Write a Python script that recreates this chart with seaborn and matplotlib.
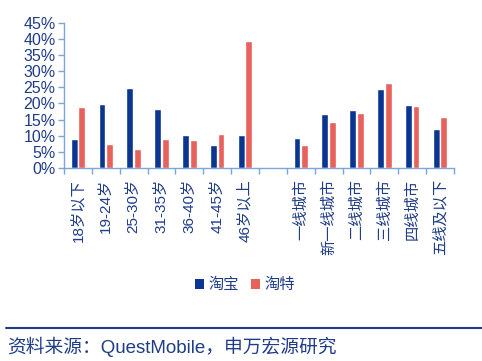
import matplotlib
matplotlib.use("Agg")
import matplotlib.pyplot as plt
import seaborn as sns
import pandas as pd
import numpy as np
from matplotlib.ticker import FuncFormatter, FixedLocator
from matplotlib.patches import Patch

categories = ["18岁以下", "19-24岁", "25-30岁", "31-35岁", "36-40岁", "41-45岁", "46岁以上",
              "一线城市", "新一线城市", "二线城市", "三线城市", "四线城市", "五线及以下"]
taobao = [9.1, 19.8, 24.9, 18.2, 10.2, 7.2, 10.2, 9.2, 16.6, 18.1, 24.6, 19.5, 12.0]
taote = [18.8, 7.3, 6.0, 9.1, 8.8, 10.4, 39.2, 7.0, 14.3, 17.1, 26.2, 19.2, 15.7]
series = ["淘宝", "淘特"]
order = categories[:7] + [" "] + categories[7:]

sns.set_theme(style="white")
plt.rcParams['font.family'] = ['Liberation Sans', 'Noto Sans CJK SC', 'DejaVu Sans']

txt = "#1F3C88"
axc = "#7AA7DA"
colors = ["#0A3591", "#E8615B"]

df = pd.DataFrame({
    "cat": categories * 2,
    "val": taobao + taote,
    "series": [series[0]] * len(categories) + [series[1]] * len(categories),
})

fig = plt.figure(figsize=(4.82, 3.61), dpi=100)
ax = fig.add_axes([64 / 482, 1 - 168 / 361, (454 - 64) / 482, (168 - 22.7) / 361])
sns.barplot(data=df, x="cat", y="val", hue="series", order=order, hue_order=series,
            palette=colors, width=0.54, gap=0.08, saturation=1, ax=ax, legend=False)

ax.set_ylim(0, 45)
ax.set_xlim(-0.5, len(order) - 0.5)
ax.set_yticks(np.arange(0, 46, 5))
ax.yaxis.set_major_formatter(FuncFormatter(lambda v, p: f"{int(round(v))}%"))
ax.set_xlabel("")
ax.set_ylabel("")
for s in ["top", "right"]:
    ax.spines[s].set_visible(False)
for s in ["left", "bottom"]:
    ax.spines[s].set_color(axc)
    ax.spines[s].set_linewidth(1.0)

ax.set_xticks(range(len(order)))
ax.set_xticklabels(order, rotation=90, fontsize=11, color=txt, va="top")
ax.tick_params(axis="x", which="major", length=0, pad=8)
ax.xaxis.set_minor_locator(FixedLocator(np.arange(-0.5, len(order), 1.0)))
ax.tick_params(axis="x", which="minor", length=4, color=axc, width=1, direction="out", bottom=True)
ax.tick_params(axis="y", length=4, color=axc, width=1, direction="out", left=True,
               labelsize=11.5, labelcolor=txt, pad=2)

handles = [Patch(facecolor=c, edgecolor="none") for c in colors]
fig.legend(handles, series, loc="center", bbox_to_anchor=(245 / 482, 1 - 285 / 361),
           ncol=2, frameon=False, fontsize=11, handlelength=0.6, handleheight=0.6,
           handletextpad=0.3, columnspacing=0.8, labelcolor=txt)

fig.add_artist(plt.Line2D([6 / 482, 1.0], [1 - 328 / 361] * 2, color="#1F3C88", lw=1.5))
fig.text(7 / 482, 1 - 347 / 361, "资料来源：QuestMobile，申万宏源研究", fontsize=13.5,
         color=txt, va="center", ha="left")

fig.savefig("out.png", dpi=100)
